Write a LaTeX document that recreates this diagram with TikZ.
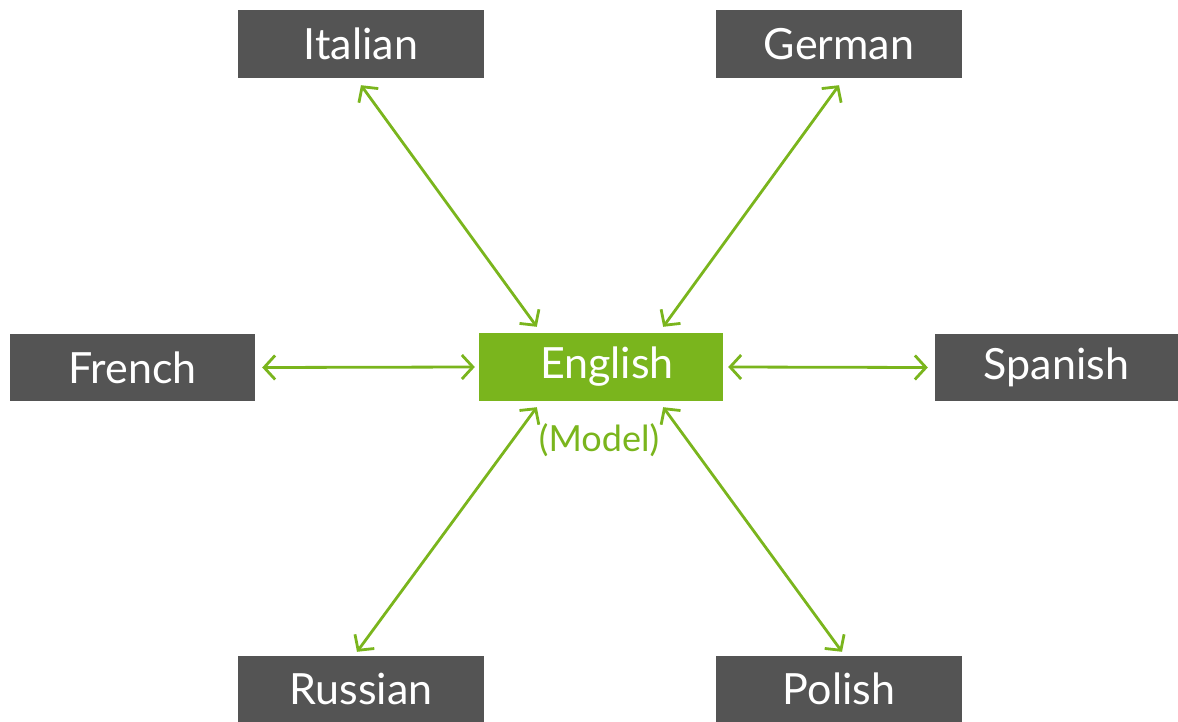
\documentclass[tikz,border=0pt]{standalone}
\usepackage{fontspec}
\setmainfont{Lato}
\usetikzlibrary{arrows.meta}
\definecolor{boxgray}{HTML}{545454}
\definecolor{leaf}{HTML}{7AB51D}
\begin{document}
\begin{tikzpicture}[x=1pt,y=-1pt,
  lang/.style={fill=boxgray,text=white,minimum width=246pt,minimum height=68pt,inner sep=0pt,font=\fontsize{43}{46}\selectfont},
  model/.style={fill=leaf,text=white,minimum width=244pt,minimum height=68pt,inner sep=0pt,font=\fontsize{43}{46}\selectfont},
  link/.style={draw=leaf,line width=2.8pt,{Straight Barb[length=11pt,width=24pt,line width=2.8pt]}-{Straight Barb[length=11pt,width=24pt,line width=2.8pt]}}]
\useasboundingbox (0,0) rectangle (1178,722);
\node[lang] (italian) at (361,44) {Italian};
\node[lang] (german) at (839,44) {German};
\node[lang,minimum width=245pt,minimum height=67pt] (french) at (132.5,367.5) {French};
\node[model] (english) at (601,367) {\hspace*{12pt}English};
\node[lang,minimum width=243pt,minimum height=67pt] (spanish) at (1056.5,367.5) {Spanish};
\node[lang,minimum height=66pt] (russian) at (361,689) {Russian};
\node[lang,minimum height=66pt] (polish) at (839,689) {Polish};
\node[text=leaf,font=\fontsize{36}{40}\selectfont,inner sep=0pt] (modellabel) at (599,440) {(Model)};
\draw[link] ([yshift=-7pt]italian.south) -- ([xshift=58pt,yshift=6pt]english.north west);
\draw[link] ([yshift=-7pt]german.south) -- ([xshift=-60pt,yshift=6pt]english.north east);
\draw[link] ([xshift=7pt]french.east) -- ([xshift=-4pt]english.west);
\draw[link] ([xshift=5pt]english.east) -- ([xshift=-7pt]spanish.west);
\draw[link] ([xshift=-4pt,yshift=4pt]russian.north) -- ([xshift=58pt,yshift=-6pt]english.south west);
\draw[link] ([xshift=3pt,yshift=4pt]polish.north) -- ([xshift=-60pt,yshift=-6pt]english.south east);
\end{tikzpicture}
\end{document}
